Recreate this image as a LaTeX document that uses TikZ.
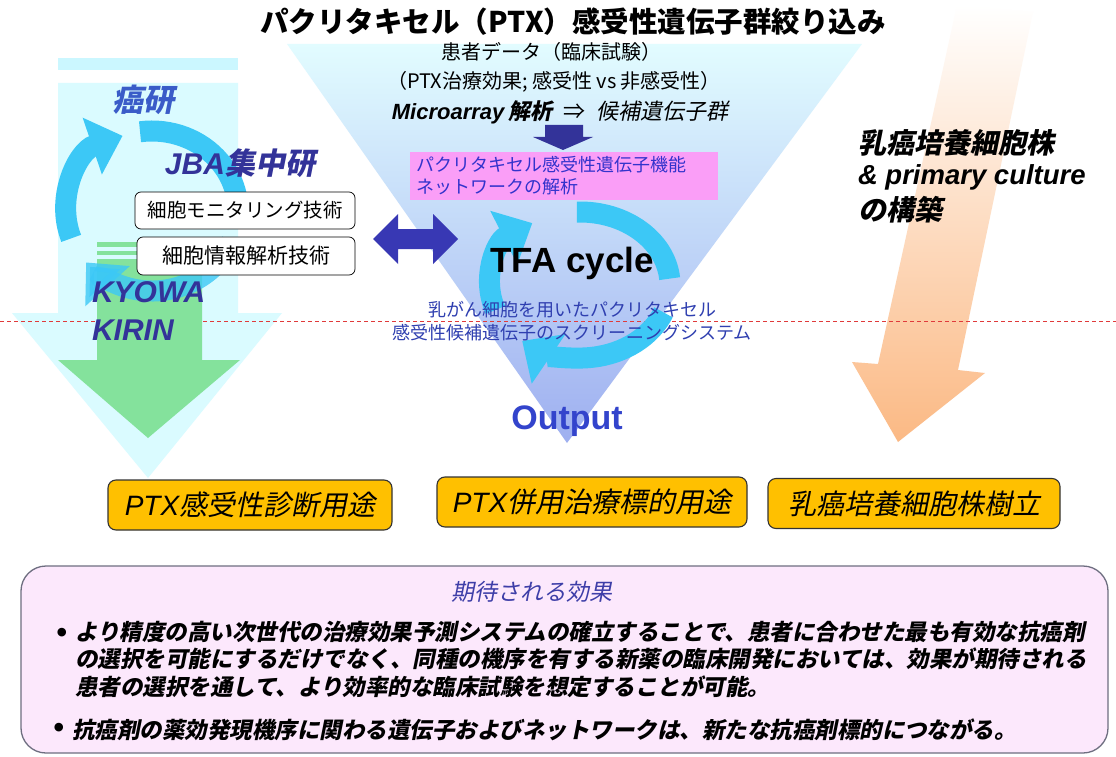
\documentclass[tikz,border=0pt]{standalone}
\usepackage{fontspec}
\setmainfont{Liberation Sans}
\newfontfamily\jp{Noto Sans CJK JP}
\newfontfamily\jpi{Noto Sans CJK JP}[FakeSlant=0.2]
\newfontfamily\ar{Liberation Sans}
\usetikzlibrary{arrows.meta,shapes.geometric}
\newcommand\fsz[2]{\fontsize{#1pt}{#2pt}\selectfont}
\definecolor{triTop}{HTML}{E2FCFF}
\definecolor{triBot}{HTML}{9EAFF0}
\definecolor{cyanSh}{HTML}{DAFBFF}
\definecolor{cyanStripe}{HTML}{CBF7FF}
\definecolor{greenArr}{HTML}{84E29C}
\definecolor{cyanArc}{HTML}{3CC8F6}
\definecolor{navy}{HTML}{333399}
\definecolor{dblue}{HTML}{3838B4}
\definecolor{ganken}{HTML}{3A5CC8}
\definecolor{pinkFill}{HTML}{FA9EF7}
\definecolor{pinkText}{HTML}{3333CC}
\definecolor{scrText}{HTML}{2F3FB0}
\definecolor{outBlue}{HTML}{3344CC}
\definecolor{orBox}{HTML}{FFC000}
\definecolor{orMid}{HTML}{FDDDC4}
\definecolor{orBot}{HTML}{FBB984}
\definecolor{lilac}{HTML}{FCE8FC}
\definecolor{lilacLine}{HTML}{6E6E80}
\definecolor{effBlue}{HTML}{3E3EA8}
\definecolor{redDash}{HTML}{E03A3A}
\tikzset{
  arcstroke/.style={draw=cyanArc, line width=21pt},
  arctip/.style={-{Triangle[length=32pt,width=58pt]}},
  whitebox/.style={draw=black, line width=0.7pt, fill=white, rounded corners=6pt, inner sep=0pt},
  orangebox/.style={draw=black!80, line width=1.1pt, fill=orBox, rounded corners=8pt, inner sep=0pt},
  pinkbox/.style={fill=pinkFill, inner sep=0pt, text=pinkText, align=left},
}
\begin{document}
\begin{tikzpicture}[x=1pt,y=-1pt, every node/.style={inner sep=0pt, outer sep=0pt}]
\useasboundingbox (0,0) rectangle (1116,757);
\fill[white] (0,0) rectangle (1116,757);

% big inverted triangle
\shade[top color=triTop, bottom color=triBot] (287,44) -- (862,44) -- (567,443) -- cycle;

% left light cyan arrow
\fill[cyanStripe] (58,58) rectangle (238,70);
\fill[cyanSh] (58,83) -- (238,83) -- (238,313) -- (282,313) -- (148,478) -- (12,313) -- (58,313) -- cycle;

% right orange arrow
\shade[top color=white, middle color=orMid, bottom color=orBot]
  (957,5) -- (1033,12) -- (958,370) -- (985,373) -- (898,442) -- (852,362) -- (878,364) -- cycle;

% red dashed line
\coordinate (dl) at (0,321);
\coordinate (dr) at (1116,321);
\draw[redDash, line width=1pt, dash pattern=on 4pt off 3pt] (dl) -- (dr);

% green arrow
\fill[greenArr] (97,242) rectangle (202,247);
\fill[greenArr] (97,251) rectangle (202,255);
\fill[greenArr] (97,259) -- (202,259) -- (202,360) -- (240,360) -- (148,438) -- (58,360) -- (97,360) -- cycle;

% left cycle arcs
\coordinate (lc) at (152,211);
\draw[arcstroke, arctip] (lc) ++(160:86 and 80) arc[start angle=160, end angle=250, x radius=86, y radius=80];
\draw[arcstroke] (lc) ++(262:86 and 80) arc[start angle=262, end angle=368, x radius=86, y radius=80];
\draw[arcstroke, arctip, opacity=0.8] (lc) ++(22:86 and 80) arc[start angle=22, end angle=140, x radius=86, y radius=80];

% TFA cycle arcs
\coordinate (tc) at (580,285);
\draw[arcstroke, arctip] (tc) ++(160:90 and 73) arc[start angle=160, end angle=238, x radius=90, y radius=73];
\draw[arcstroke] (tc) ++(268:90 and 73) arc[start angle=268, end angle=355, x radius=90, y radius=73];
\draw[arcstroke, arctip] (tc) ++(22:90 and 73) arc[start angle=22, end angle=130, x radius=90, y radius=73];

% title
\node[font=\jp\bfseries\fsz{28.5}{34}] (title) at (573,22) {パクリタキセル（PTX）感受性遺伝子群絞り込み};

% patient data texts
\node[font=\jp\fsz{20}{24}] (pd) at (551,52) {患者データ（臨床試験）};
\node[font=\jp\fsz{20}{24}] (ptx) at (554,82) {（PTX治療効果; 感受性 vs 非感受性）};
\node[font=\fsz{22}{26}] (micro) at (560,112) {{\ar\bfseries\itshape Microarray}\,{\jpi\bfseries 解析}\enspace{\jp ⇒}\enspace{\jpi 候補遺伝子群}};

% small down arrow
\fill[navy] (545,125) -- (583,125) -- (583,137) -- (593,137) -- (563,150) -- (533,137) -- (545,137) -- cycle;

% pink box
\node[pinkbox, minimum width=308pt, minimum height=48pt, text width=296pt, font=\jp\fsz{18}{22}] (net) at (564,176) {パクリタキセル感受性遺伝子機能\\ネットワークの解析};

% TFA cycle text
\node[font=\ar\bfseries\fsz{35}{40}] (tfa) at (572,263) {TFA cycle};
\node[font=\jp\fsz{18}{23}, text=scrText, align=center] (scr) at (572,321) {乳がん細胞を用いたパクリタキセル\\感受性候補遺伝子のスクリーニングシステム};
\node[font=\ar\bfseries\fsz{34}{40}, text=outBlue] (out) at (567,421) {Output};

% double arrow
\fill[dblue] (373,239) -- (398,214) -- (398,229) -- (433,229) -- (433,214) -- (458,239) -- (433,264) -- (433,249) -- (398,249) -- (398,264) -- cycle;

% left labels
\node[font=\jpi\bfseries\fsz{31}{36}, text=ganken] (gk) at (143,100) {癌研};
\node[font=\fsz{30}{34}, text=navy] (jba) at (240,163) {{\ar\bfseries\itshape JBA}{\jpi\bfseries 集中研}};
\node[whitebox, minimum width=220pt, minimum height=37pt, font=\jp\fsz{19.5}{22}] (mon) at (245,210.5) {細胞モニタリング技術};
\node[whitebox, minimum width=218pt, minimum height=38pt, font=\jp\fsz{21}{24}] (inf) at (246,256) {細胞情報解析技術};
\node[font=\ar\bfseries\itshape\fsz{30}{34}, text=navy, anchor=west] (kyowa) at (92,292) {KYOWA};
\node[font=\ar\bfseries\itshape\fsz{30}{34}, text=navy, anchor=west] (kirin) at (92,330) {KIRIN};

% right labels
\node[font=\jpi\bfseries\fsz{28}{32}, anchor=west] (nyu) at (858,143) {乳癌培養細胞株};
\node[font=\ar\bfseries\itshape\fsz{27.5}{32}, anchor=west] (prim) at (858,177) {\& primary culture};
\node[font=\jpi\bfseries\fsz{28}{32}, anchor=west] (kochiku) at (858,210) {の構築};

% orange boxes
\node[orangebox, minimum width=284pt, minimum height=50pt, font=\fsz{28}{32}] (ob1) at (250,505) {{\ar\itshape PTX}{\jpi 感受性診断用途}};
\node[orangebox, minimum width=310pt, minimum height=50pt, font=\fsz{28}{32}] (ob2) at (592,502) {{\ar\itshape PTX}{\jpi 併用治療標的用途}};
\node[orangebox, minimum width=292pt, minimum height=50pt, font=\fsz{28}{32}] (ob3) at (914,503.5) {{\jpi 乳癌培養細胞株樹立}};

% bottom effect box
\node[draw=lilacLine, line width=1.3pt, fill=lilac, rounded corners=25pt, minimum width=1087pt, minimum height=187pt] (eff) at (564.5,659.5) {};
\node[font=\jpi\fsz{23}{27}, text=effBlue] (effT) at (532,592) {期待される効果};
\node[font=\ar\bfseries\fsz{30}{30}] (b1) at (62,635) {•};
\node[font=\jpi\bfseries\fsz{22.5}{27.5}, anchor=north west, align=left] (t1) at (75,621) {より精度の高い次世代の治療効果予測システムの確立することで、患者に合わせた最も有効な抗癌剤\\の選択を可能にするだけでなく、同種の機序を有する新薬の臨床開発においては、効果が期待される\\患者の選択を通して、より効率的な臨床試験を想定することが可能。};
\node[font=\ar\bfseries\fsz{30}{30}] (b2) at (59,730) {•};
\node[font=\jpi\bfseries\fsz{22.5}{27}, anchor=west] (t2) at (72,730) {抗癌剤の薬効発現機序に関わる遺伝子およびネットワークは、新たな抗癌剤標的につながる。};
\end{tikzpicture}
\end{document}
